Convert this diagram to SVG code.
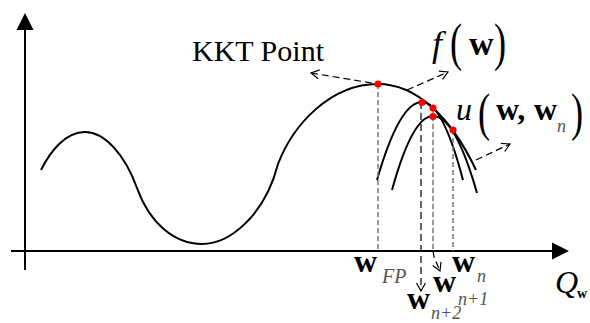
<svg xmlns="http://www.w3.org/2000/svg" width="590" height="323" viewBox="0 0 590 323">
<style>
.ax{stroke:#000;stroke-width:2;fill:none}
.ah{fill:#000;stroke:none}
.crv{stroke:#000;stroke-width:2;fill:none}
.gd{stroke:#777;stroke-width:1.5;stroke-dasharray:5 3;fill:none}
.kd{stroke:#000;stroke-width:1.2;stroke-dasharray:7 4;fill:none}
.dot{fill:#f00;stroke:none}
.t{font-family:"Liberation Serif","Times New Roman",serif;fill:#000}
.i{font-style:italic}
.b{font-weight:bold}
.s{font-family:"Liberation Serif","Times New Roman",serif;font-style:italic;fill:#555}
</style>
<defs>
<marker id="open" markerWidth="12" markerHeight="12" refX="9" refY="6" orient="auto" markerUnits="userSpaceOnUse">
<path d="M1,1.5 L9,6 L1,10.5" fill="none" stroke="#000" stroke-width="1.2"/>
</marker>
</defs>
<g id="axes">
<line class="ax" x1="25" y1="270" x2="25" y2="29"/>
<polygon class="ah" points="25,13 33.5,30 16.5,30"/>
<line class="ax" x1="11" y1="251" x2="554" y2="251"/>
<polygon class="ah" points="569,251 552,242.5 552,259.5"/>
</g>
<g id="curves">
<path id="f-curve" class="crv" d="M41,170 C50,152 65,132 85,132 C105,132 125,155 137,188 C150,224 175,244 202,244 C230,244 265,215 278,164 C293,125 330,84 378,84 C415,84 450,115 476,170"/>
<path id="surrogate-n1" class="crv" d="M377,180 Q399.5,102 422,102 Q442.5,102 463,180"/>
<path id="surrogate-n" class="crv" d="M392,190 Q412.5,116 433,116 Q455,116 477,193"/>
</g>
<g id="guides">
<line class="gd" x1="378" y1="84" x2="378" y2="251"/>
<line class="gd" x1="433" y1="108" x2="433" y2="251"/>
<line class="gd" x1="453" y1="130" x2="453" y2="251"/>
</g>
<g id="connectors">
<line class="kd" x1="372" y1="83" x2="311" y2="73" marker-end="url(#open)"/>
<line class="kd" x1="407" y1="90" x2="448" y2="72" marker-end="url(#open)"/>
<line class="kd" x1="476" y1="160" x2="510" y2="144" marker-end="url(#open)"/>
<line class="kd" x1="421" y1="102" x2="421" y2="291" marker-end="url(#open)"/>
<polyline class="kd" points="433,251 434,257 440,271" marker-end="url(#open)"/>
</g>
<g id="points">
<circle class="dot" cx="378" cy="84" r="3.6"/>
<circle class="dot" cx="422" cy="102.5" r="3.6"/>
<circle class="dot" cx="433" cy="108" r="3.6"/>
<circle class="dot" cx="433" cy="116.5" r="3.6"/>
<circle class="dot" cx="453" cy="130" r="3.6"/>
</g>
<g id="label-kkt">
<text class="t" x="192" y="61" font-size="30">KKT Point</text>
</g>
<g id="label-f">
<text class="t i" x="432" y="56" font-size="36">f</text>
<text class="t" x="450" y="60" font-size="52" transform="translate(450,0) scale(0.7,1) translate(-450,0)">(</text>
<text class="t b" x="469" y="55" font-size="34">w</text>
<text class="t" x="494" y="60" font-size="52" transform="translate(494,0) scale(0.7,1) translate(-494,0)">)</text>
</g>
<g id="label-u">
<text class="t i" x="456" y="120" font-size="32">u</text>
<text class="t" x="478" y="130" font-size="52" transform="translate(478,0) scale(0.7,1) translate(-478,0)">(</text>
<text class="t b" x="496" y="120" font-size="32">w,</text>
<text class="t b" x="534" y="120" font-size="32">w</text>
<text class="s" x="557" y="132" font-size="18">n</text>
<text class="t" x="571" y="130" font-size="52" transform="translate(571,0) scale(0.7,1) translate(-571,0)">)</text>
</g>
<g id="label-wfp">
<text class="t b" x="354" y="272" font-size="32">w</text>
<text class="s" x="382" y="283" font-size="20">FP</text>
</g>
<g id="label-wn">
<text class="t b" x="452" y="272" font-size="32">w</text>
<text class="s" x="477" y="282" font-size="18">n</text>
</g>
<g id="label-wn1">
<text class="t b" x="433" y="292" font-size="32">w</text>
<text class="s" x="458" y="305" font-size="18">n+1</text>
</g>
<g id="label-wn2">
<text class="t b" x="407" y="309" font-size="32">w</text>
<text class="s" x="431" y="319" font-size="18">n+2</text>
</g>
<g id="label-q">
<text class="t i" x="555" y="293" font-size="32">Q</text>
<text class="t b" x="577" y="298" font-size="14">w</text>
</g>
</svg>
